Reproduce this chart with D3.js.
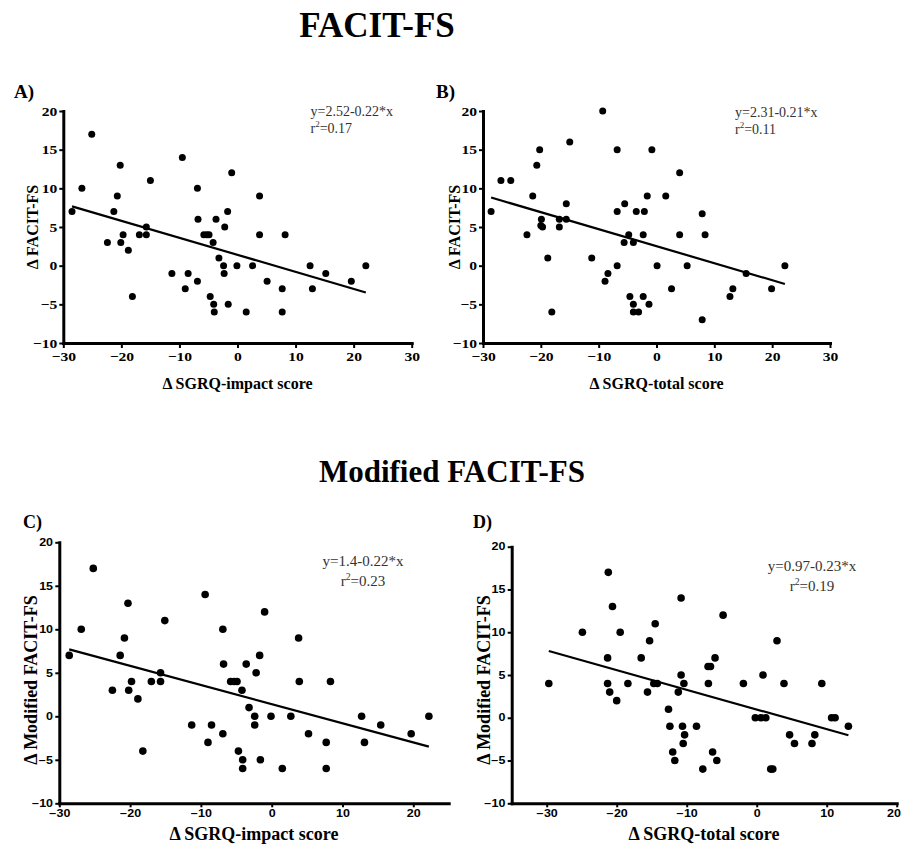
<!DOCTYPE html>
<html><head><meta charset="utf-8">
<script src="https://cdn.jsdelivr.net/npm/d3@7"></script>
<style>
html,body{margin:0;padding:0;background:#fff;}
svg{display:block;}
</style></head>
<body>
<svg id="chart" width="901" height="846"></svg>
<script>
// ---------- DATA ----------
const aX = [-28.5,-26.8,-25.1,-22.4,-21.3,-20.7,-20.2,-20.1,-19.7,-18.8,-18.1,-16.9,-15.7,-15.7,-15.0,-11.3,-9.5,-9.0,-8.5,-6.9,-6.8,-6.9,-5.8,-5.3,-4.9,-4.7,-4.2,-4.1,-4.0,-3.7,-3.2,-2.4,-2.3,-2.2,-1.7,-1.6,-1.0,-0.1,1.5,2.6,3.8,3.8,5.1,7.7,7.7,8.2,12.5,12.9,15.2,19.6,22.1];
const aY = [7,10,17,3,7,9,13,3,4,2,-4,4,5,4,11,-1,14,-3,-1,10,6,-2,4,4,4,-4,3,-5,-6,6,1,0,-1,5,7,-5,12,0,-6,0,9,4,-2,-3,-6,4,0,-3,-1,-2,0];
const bX = [-28.6,-26.9,-25.2,-22.4,-21.4,-20.7,-20.2,-19.9,-20.0,-19.7,-18.8,-18.1,-16.8,-16.8,-15.6,-15.6,-15.0,-11.2,-9.3,-8.9,-8.4,-6.8,-6.8,-6.8,-5.5,-5.6,-4.8,-4.6,-4.0,-4.0,-4.0,-3.5,-3.1,-2.3,-2.3,-2.1,-1.6,-1.3,-0.8,0.1,1.6,2.6,4.0,4.0,5.3,7.9,7.9,8.4,12.7,13.2,15.5,19.9,22.2];
const bY = [7,11,11,4,9,13,15,6,5.2,5,1,-6,6,5,8,6,16,1,20,-2,-1,15,7,0,8,3,4,-4,-5,-6,3,7,-6,4,-4,7,9,-5,15,0,9,-3,12,4,0,6.7,-7,4,-4,-3,-1,-3,0];
const cX = [-28.6,-26.9,-25.2,-22.5,-21.4,-20.8,-20.3,-20.2,-19.8,-18.9,-18.2,-17.0,-15.7,-15.7,-15.1,-11.3,-9.4,-9.0,-8.5,-6.9,-6.8,-6.9,-5.8,-5.3,-4.9,-4.7,-4.2,-4.1,-4.1,-3.6,-3.2,-2.4,-2.4,-2.2,-1.7,-1.6,-1.0,-0.1,1.5,2.7,3.8,3.9,5.2,7.7,7.7,8.3,12.7,13.1,15.4,19.7,22.2];
const cY = [7,10,17,3,7,9,13,3,4,2,-4,4,5,4,11,-1,14,-3,-1,10,6,-2,4,4,4,-4,3,-5,-6,6,1,0,-1,5,7,-5,12,0,-6,0,9,4,-2,-3,-6,4,0,-3,-1,-2,0];
const dX = [-29.7,-24.9,-21.2,-21.3,-21.3,-21.0,-20.6,-20.0,-19.5,-18.4,-16.5,-15.6,-15.3,-14.5,-14.7,-14.2,-12.6,-12.4,-12.0,-11.7,-11.2,-10.8,-10.8,-10.6,-10.4,-10.3,-10.5,-8.6,-7.7,-6.95,-6.6,-6.9,-6.3,-5.95,-5.7,-4.8,-1.9,-0.2,0.6,0.9,1.3,2.0,2.3,2.9,3.9,4.7,5.4,7.9,8.3,9.3,10.7,11.2,13.1];
const dY = [4,10,17,7,4,3,13,2,10,4,7,3,9,11,4,4,1,-1,-4,-5,3,14,5,-1,4,-2,-3,-1,-6,6,6,4,-4,7,-5,12,4,0,0,5,0,-6,-6,9,4,-2,-3,-3,-2,4,0,0,-1];

const yTicks = [-10,-5,0,5,10,15,20];
const xTicksTop = [-30,-20,-10,0,10,20,30];
const xTicksBottom = [-30,-20,-10,0,10,20];

const panelLetters = ["A)","B)","C)","D)"];
const xTitles = ["\u0394 SGRQ-impact score","\u0394 SGRQ-total score","\u0394 SGRQ-impact score","\u0394 SGRQ-total score"];
const yTitles = ["\u0394 FACIT-FS","\u0394 FACIT-FS","\u0394 Modified FACIT-FS","\u0394 Modified FACIT-FS"];
const equations = ["y=2.52-0.22*x","y=2.31-0.21*x","y=1.4-0.22*x","y=0.97-0.23*x"];
const r2Values = ["0.17","0.11","0.23","0.19"];
// regression lines as drawn in the figure
const fitIntercepts = [1.4, 2.52, 1.4, 0.97];
const fitSlopes = [-0.22, -0.22, -0.22, -0.23];
const sectionTitles = ["FACIT-FS","Modified FACIT-FS"];

// ---------- LAYOUT ----------
const svg = d3.select("#chart");
const serif = "'Liberation Serif','Times New Roman',serif";
const sans = "'Liberation Sans',Arial,sans-serif";

const panels = [
  {x:aX, y:aY, xDom:[-30,30], xRange:[63.3,411.7], yRange:[343,111], xTicks:xTicksTop, top:true,
   letter:[14,98], yTitle:[38,227], xTitle:[237.5,389], eq:[310.5,116,133,"start"]},
  {x:bX, y:bY, xDom:[-30,30], xRange:[483,830], yRange:[343,111], xTicks:xTicksTop, top:true,
   letter:[436,98], yTitle:[460,227], xTitle:[656.5,389], eq:[735,117,134,"start"]},
  {x:cX, y:cY, xDom:[-30,25], xRange:[59.3,448.7], yRange:[803.3,542.3], xTicks:xTicksBottom, top:false,
   letter:[23,528], yTitle:[37,680], xTitle:[254,840], eq:[363,566,586,"middle"]},
  {x:dX, y:dY, xDom:[-35,20], xRange:[511.7,896.7], yRange:[803.3,546.7], xTicks:xTicksBottom, top:false,
   letter:[473,528], yTitle:[490,680], xTitle:[704,840], eq:[812,571,591,"middle"]}
];

panels.forEach((p, i) => {
  const xs = d3.scaleLinear().domain(p.xDom).range(p.xRange);
  const ys = d3.scaleLinear().domain([-10,20]).range(p.yRange);
  const g = svg.append("g");

  const tickFont = p.top ? serif : sans;
  const tickSize = p.top ? 13 : 10;
  const stretch = p.top ? "scale(1.2,1)" : "scale(1.25,1)";

  const xg = g.append("g").attr("transform", `translate(0,${p.yRange[0]})`)
    .call(d3.axisBottom(xs).tickValues(p.xTicks).tickFormat(d3.format("d")).tickSize(p.top?5:4).tickSizeOuter(0).tickPadding(p.top?4:3));
  const yg = g.append("g").attr("transform", `translate(${p.xRange[0]},0)`)
    .call(d3.axisLeft(ys).tickValues(yTicks).tickFormat(d3.format("d")).tickSize(4).tickSizeOuter(0).tickPadding(1));

  [xg, yg].forEach(ax => {
    ax.select(".domain").attr("stroke","#000").attr("stroke-width",3).attr("stroke-linecap","square");
    ax.selectAll(".tick line").attr("stroke","#000").attr("stroke-width",2);
    ax.selectAll(".tick text").attr("font-family",tickFont).attr("font-weight","bold")
      .attr("font-size",tickSize).attr("fill","#000").attr("transform",stretch);
  });
  // keep a tick label that sits on the right page edge inside the picture
  xg.selectAll(".tick text").filter(d => xs(d) > 890).attr("text-anchor","end").attr("x",3);

  const xmin = d3.min(p.x), xmax = d3.max(p.x);
  const lineData = [xmin, xmax].map(v => [v, fitIntercepts[i] + fitSlopes[i]*v]);
  g.append("path").datum(lineData)
    .attr("d", d3.line().x(d => xs(d[0])).y(d => ys(d[1])))
    .attr("stroke","#000").attr("stroke-width",2.2).attr("fill","none");

  g.selectAll("circle.pt").data(p.x.map((v,k)=>[v,p.y[k]])).join("circle")
    .attr("class","pt")
    .attr("cx", d => xs(d[0])).attr("cy", d => ys(d[1]))
    .attr("r", p.top ? 3.5 : 3.8).attr("fill","#000");

  g.append("text").attr("x",p.letter[0]).attr("y",p.letter[1])
    .attr("font-family",serif).attr("font-weight","bold").attr("font-size",p.top?19:18)
    .text(panelLetters[i]);

  g.append("text").attr("x",p.xTitle[0]).attr("y",p.xTitle[1]).attr("text-anchor","middle")
    .attr("font-family",serif).attr("font-weight","bold").attr("font-size",p.top?16:18)
    .text(xTitles[i]);
  g.append("text").attr("transform",`translate(${p.yTitle[0]},${p.yTitle[1]}) rotate(-90)`)
    .attr("text-anchor","middle")
    .attr("font-family",serif).attr("font-weight","bold").attr("font-size",p.top?16:18)
    .text(yTitles[i]);

  const eqSize = p.top ? 14 : 15;
  g.append("text").attr("x",p.eq[0]).attr("y",p.eq[1]).attr("text-anchor",p.eq[3])
    .attr("font-family",serif).attr("font-size",eqSize).attr("fill","#333")
    .text(equations[i]);
  const r2 = g.append("text").attr("x",p.eq[0]).attr("y",p.eq[2]).attr("text-anchor",p.eq[3])
    .attr("font-family",serif).attr("font-size",eqSize).attr("fill","#333");
  r2.append("tspan").text("r");
  r2.append("tspan").attr("font-size",eqSize*0.65).attr("dy",-6).text("2");
  r2.append("tspan").attr("dy",6).text("=" + r2Values[i]);
});

svg.append("text").attr("x",377).attr("y",37).attr("text-anchor","middle")
  .attr("font-family",serif).attr("font-weight","bold").attr("font-size",35).text(sectionTitles[0]);
svg.append("text").attr("x",452).attr("y",482).attr("text-anchor","middle")
  .attr("font-family",serif).attr("font-weight","bold").attr("font-size",31).text(sectionTitles[1]);
</script>
</body></html>
